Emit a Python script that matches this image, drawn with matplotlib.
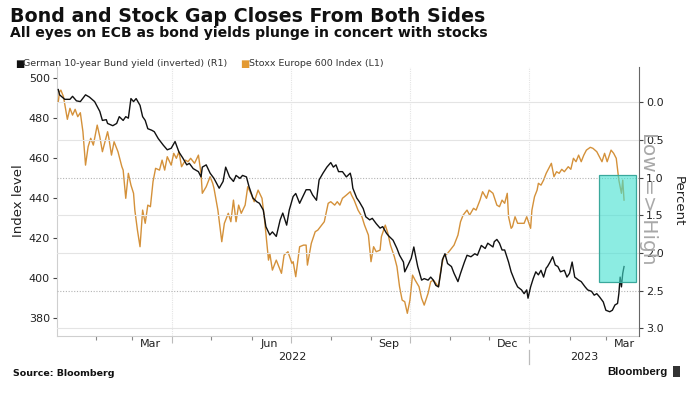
import matplotlib

matplotlib.use("Agg")
import matplotlib.pyplot as plt
import matplotlib.dates as mdates
import matplotlib.transforms as mtransforms
from matplotlib.patches import Rectangle
import pandas as pd

# Stoxx Europe 600 index level (left axis)
stoxx_dates = [
    "2022-01-03", "2022-01-04", "2022-01-05", "2022-01-07", "2022-01-10", "2022-01-12", "2022-01-14",
    "2022-01-16", "2022-01-18", "2022-01-20", "2022-01-22", "2022-01-24", "2022-01-26", "2022-01-28",
    "2022-01-30", "2022-02-02", "2022-02-04", "2022-02-06", "2022-02-10", "2022-02-11", "2022-02-13",
    "2022-02-15", "2022-02-18", "2022-02-21", "2022-02-22", "2022-02-24", "2022-02-26", "2022-02-28",
    "2022-03-02", "2022-03-03", "2022-03-05", "2022-03-07", "2022-03-09", "2022-03-11", "2022-03-13",
    "2022-03-15", "2022-03-17", "2022-03-19", "2022-03-22", "2022-03-24", "2022-03-26", "2022-03-28",
    "2022-03-31", "2022-04-02", "2022-04-04", "2022-04-06", "2022-04-08", "2022-04-11", "2022-04-13",
    "2022-04-15", "2022-04-18", "2022-04-21", "2022-04-23", "2022-04-24", "2022-04-27", "2022-04-30",
    "2022-05-02", "2022-05-03", "2022-05-06", "2022-05-09", "2022-05-11", "2022-05-14", "2022-05-16",
    "2022-05-18", "2022-05-20", "2022-05-22", "2022-05-24", "2022-05-27", "2022-05-29", "2022-06-01",
    "2022-06-03", "2022-06-06", "2022-06-09", "2022-06-11", "2022-06-14", "2022-06-15", "2022-06-17",
    "2022-06-20", "2022-06-24", "2022-06-26", "2022-06-29", "2022-07-02", "2022-07-03", "2022-07-05",
    "2022-07-08", "2022-07-11", "2022-07-13", "2022-07-14", "2022-07-17", "2022-07-20", "2022-07-22",
    "2022-07-25", "2022-07-27", "2022-07-30", "2022-08-01", "2022-08-04", "2022-08-06", "2022-08-08",
    "2022-08-10", "2022-08-13", "2022-08-16", "2022-08-17", "2022-08-19", "2022-08-22", "2022-08-25",
    "2022-08-27", "2022-08-30", "2022-09-01", "2022-09-03", "2022-09-05", "2022-09-08", "2022-09-09",
    "2022-09-12", "2022-09-14", "2022-09-16", "2022-09-19", "2022-09-21", "2022-09-23", "2022-09-25",
    "2022-09-27", "2022-09-29", "2022-10-01", "2022-10-03", "2022-10-05", "2022-10-08", "2022-10-10",
    "2022-10-12", "2022-10-15", "2022-10-17", "2022-10-19", "2022-10-21", "2022-10-23", "2022-10-25",
    "2022-10-27", "2022-10-30", "2022-11-01", "2022-11-04", "2022-11-07", "2022-11-09", "2022-11-11",
    "2022-11-14", "2022-11-16", "2022-11-19", "2022-11-21", "2022-11-24", "2022-11-26", "2022-11-29",
    "2022-12-01", "2022-12-04", "2022-12-07", "2022-12-09", "2022-12-11", "2022-12-13", "2022-12-15",
    "2022-12-16", "2022-12-18", "2022-12-19", "2022-12-21", "2022-12-23", "2022-12-26", "2022-12-28",
    "2022-12-30", "2023-01-02", "2023-01-03", "2023-01-05", "2023-01-07", "2023-01-08", "2023-01-10",
    "2023-01-12", "2023-01-14", "2023-01-16", "2023-01-18", "2023-01-20", "2023-01-22", "2023-01-24",
    "2023-01-26", "2023-01-28", "2023-01-31", "2023-02-02", "2023-02-04", "2023-02-06", "2023-02-08",
    "2023-02-10", "2023-02-12", "2023-02-14", "2023-02-17", "2023-02-19", "2023-02-22", "2023-02-24",
    "2023-02-26", "2023-02-28", "2023-03-02", "2023-03-05", "2023-03-07", "2023-03-09", "2023-03-11",
    "2023-03-13", "2023-03-14", "2023-03-15",
]
stoxx_values = [
    488.3, 493.3, 494.1, 490.8, 479.5, 485.0, 481.6,
    484.5, 480.8, 482.8, 473.3, 456.6, 465.8, 470.0,
    466.6, 476.6, 470.8, 463.3, 473.3, 470.0, 461.6,
    468.3, 463.3, 455.8, 454.1, 440.0, 452.5, 446.6,
    442.5, 434.1, 424.1, 415.8, 434.1, 427.5, 436.6,
    435.8, 448.3, 455.0, 454.1, 459.1, 454.1, 460.8,
    456.6, 462.5, 460.0, 463.3, 455.8, 459.1, 458.3,
    460.0, 457.5, 461.6, 452.5, 442.5, 445.8, 450.8,
    447.5, 445.0, 434.1, 418.3, 427.5, 432.5, 428.3,
    439.1, 428.3, 436.6, 432.5, 436.6, 445.8, 441.6,
    438.3, 444.1, 440.0, 429.1, 409.1, 412.5, 404.1,
    409.1, 402.5, 411.6, 413.3, 407.5, 408.3, 400.8,
    415.8, 416.6, 416.6, 406.6, 417.5, 423.3, 424.1,
    426.6, 428.3, 437.5, 438.3, 436.6, 438.3, 436.6,
    440.0, 441.6, 443.3, 441.6, 439.1, 434.1, 430.8,
    426.6, 421.6, 408.3, 415.8, 413.3, 414.1, 420.8,
    426.6, 422.5, 416.6, 410.8, 405.8, 395.8, 389.1,
    388.3, 382.5, 389.1, 401.6, 399.1, 395.8, 390.0,
    386.6, 392.5, 398.3, 399.1, 397.5, 395.8, 405.0,
    410.8, 412.5, 414.1, 416.6, 421.6, 428.3, 431.6,
    434.1, 431.6, 435.0, 434.1, 439.1, 443.3, 440.0,
    444.1, 442.5, 436.6, 435.8, 439.1, 437.5, 442.5,
    430.8, 425.0, 425.8, 430.8, 427.5, 427.5, 427.5,
    430.8, 425.0, 434.1, 440.8, 444.1, 447.5, 446.6,
    449.1, 452.5, 455.0, 457.5, 450.8, 453.3, 452.5,
    454.5, 453.3, 455.8, 454.5, 460.0, 458.3, 461.6,
    458.3, 461.6, 464.1, 465.5, 465.0, 463.3, 460.8,
    458.3, 462.5, 458.3, 464.1, 462.5, 460.0, 449.1,
    442.5, 449.1, 439.1,
]

# German 10-year Bund yield in percent (right axis, inverted)
bund_dates = [
    "2022-01-03", "2022-01-04", "2022-01-08", "2022-01-12", "2022-01-14", "2022-01-17", "2022-01-20",
    "2022-01-24", "2022-01-27", "2022-01-31", "2022-02-04", "2022-02-06", "2022-02-09", "2022-02-10",
    "2022-02-14", "2022-02-17", "2022-02-19", "2022-02-22", "2022-02-24", "2022-02-26", "2022-02-28",
    "2022-03-02", "2022-03-04", "2022-03-07", "2022-03-09", "2022-03-11", "2022-03-13", "2022-03-16",
    "2022-03-18", "2022-03-21", "2022-03-25", "2022-03-28", "2022-03-31", "2022-04-03", "2022-04-06",
    "2022-04-09", "2022-04-12", "2022-04-14", "2022-04-17", "2022-04-21", "2022-04-23", "2022-04-24",
    "2022-04-27", "2022-04-30", "2022-05-03", "2022-05-07", "2022-05-10", "2022-05-12", "2022-05-15",
    "2022-05-18", "2022-05-20", "2022-05-23", "2022-05-25", "2022-05-28", "2022-05-30", "2022-06-02",
    "2022-06-05", "2022-06-07", "2022-06-10", "2022-06-12", "2022-06-15", "2022-06-17", "2022-06-20",
    "2022-06-23", "2022-06-25", "2022-06-28", "2022-06-30", "2022-07-03", "2022-07-05", "2022-07-08",
    "2022-07-11", "2022-07-13", "2022-07-16", "2022-07-18", "2022-07-21", "2022-07-23", "2022-07-26",
    "2022-07-29", "2022-08-01", "2022-08-03", "2022-08-05", "2022-08-07", "2022-08-10", "2022-08-13",
    "2022-08-16", "2022-08-17", "2022-08-18", "2022-08-21", "2022-08-23", "2022-08-26", "2022-08-28",
    "2022-08-31", "2022-09-02", "2022-09-05", "2022-09-08", "2022-09-10", "2022-09-13", "2022-09-15",
    "2022-09-18", "2022-09-21", "2022-09-23", "2022-09-26", "2022-09-27", "2022-09-29", "2022-10-02",
    "2022-10-04", "2022-10-05", "2022-10-07", "2022-10-10", "2022-10-12", "2022-10-15", "2022-10-17",
    "2022-10-19", "2022-10-21", "2022-10-23", "2022-10-25", "2022-10-26", "2022-10-28", "2022-10-30",
    "2022-11-02", "2022-11-04", "2022-11-07", "2022-11-09", "2022-11-12", "2022-11-14", "2022-11-17",
    "2022-11-20", "2022-11-22", "2022-11-25", "2022-11-28", "2022-11-30", "2022-12-04", "2022-12-05",
    "2022-12-07", "2022-12-09", "2022-12-11", "2022-12-13", "2022-12-16", "2022-12-18", "2022-12-21",
    "2022-12-23", "2022-12-26", "2022-12-28", "2022-12-30", "2022-12-31", "2023-01-02", "2023-01-04",
    "2023-01-06", "2023-01-08", "2023-01-10", "2023-01-12", "2023-01-14", "2023-01-15", "2023-01-17",
    "2023-01-19", "2023-01-21", "2023-01-23", "2023-01-25", "2023-01-28", "2023-01-30", "2023-02-01",
    "2023-02-03", "2023-02-05", "2023-02-08", "2023-02-10", "2023-02-13", "2023-02-15", "2023-02-18",
    "2023-02-20", "2023-02-22", "2023-02-24", "2023-02-27", "2023-03-01", "2023-03-04", "2023-03-06",
    "2023-03-08", "2023-03-10", "2023-03-11", "2023-03-12", "2023-03-13", "2023-03-14", "2023-03-15",
]
bund_values = [
    -0.17, -0.10, -0.04, -0.04, -0.08, -0.02, -0.01,
    -0.10, -0.07, -0.01, 0.12, 0.24, 0.23, 0.28,
    0.31, 0.28, 0.19, 0.24, 0.19, 0.21, -0.05,
    -0.01, -0.05, 0.04, 0.19, 0.24, 0.35, 0.37,
    0.39, 0.48, 0.57, 0.63, 0.61, 0.52, 0.66,
    0.74, 0.83, 0.81, 0.88, 0.92, 0.99, 0.86,
    0.83, 0.94, 1.01, 1.14, 1.05, 0.86, 0.99,
    1.05, 0.97, 1.01, 0.97, 0.99, 1.12, 1.27,
    1.32, 1.34, 1.43, 1.65, 1.76, 1.72, 1.78,
    1.56, 1.47, 1.63, 1.43, 1.25, 1.21, 1.34,
    1.23, 1.16, 1.16, 1.23, 1.30, 1.03, 0.94,
    0.86, 0.80, 0.86, 0.83, 0.92, 0.92, 0.99,
    0.94, 1.01, 1.14, 1.27, 1.32, 1.41, 1.52,
    1.56, 1.54, 1.61, 1.67, 1.65, 1.74, 1.78,
    1.83, 1.94, 2.03, 2.12, 2.25, 2.18, 2.07,
    1.92, 2.01, 2.18, 2.36, 2.34, 2.36, 2.32,
    2.36, 2.43, 2.45, 2.23, 2.09, 2.01, 2.14,
    2.18, 2.27, 2.38, 2.27, 2.12, 2.03, 2.05,
    2.01, 2.03, 1.90, 1.94, 1.87, 1.92, 1.85,
    1.82, 1.87, 1.96, 1.96, 2.12, 2.25, 2.38,
    2.45, 2.49, 2.54, 2.49, 2.60, 2.45, 2.34,
    2.25, 2.29, 2.23, 2.32, 2.20, 2.18, 2.12,
    2.05, 2.16, 2.18, 2.25, 2.23, 2.32, 2.27,
    2.12, 2.32, 2.36, 2.38, 2.45, 2.49, 2.51,
    2.56, 2.54, 2.58, 2.65, 2.76, 2.78, 2.76,
    2.69, 2.67, 2.54, 2.32, 2.45, 2.27, 2.18,
]

# highlighted window (dates, yield range in percent)
box_dates = ["2023-02-24", "2023-03-24"]
box_yields = [0.96, 2.38]

month_labels = ["Mar", "Jun", "Sep", "Dec", "Mar"]
month_label_dates = ["2022-03-15", "2022-06-15", "2022-09-15", "2022-12-15", "2023-03-15"]
year_labels = ["2022", "2023"]
year_label_dates = ["2022-07-02", "2023-02-12"]

ORANGE = "#d4913a"
GRID = "#e4e4e4"


def plot_gap(out_png: str = "out.png") -> None:
    stoxx = pd.Series(stoxx_values, index=pd.to_datetime(stoxx_dates))
    bund = pd.Series(bund_values, index=pd.to_datetime(bund_dates))

    fig = plt.figure(figsize=(7.0, 3.94), dpi=100)
    ax = fig.add_axes([0.0814, 0.1472, 0.8314, 0.6827])
    ax2 = ax.twinx()

    ax.set_xlim(pd.Timestamp("2022-01-02"), pd.Timestamp("2023-03-26 12:00"))
    ax.set_ylim(371.15, 505.65)
    ax2.set_ylim(3.102, -0.469)

    # grid: horizontal from the right axis, vertical at quarter starts
    for lvl in [0.0, 0.5, 1.0, 1.5, 2.0, 2.5, 3.0]:
        if lvl in (1.0, 2.5):
            ax2.axhline(lvl, color="#b4b4b4", lw=0.8, ls=(0, (1, 1.5)), zorder=0)
        else:
            ax2.axhline(lvl, color=GRID, lw=0.8, zorder=0)
    for q in ["2022-04-01", "2022-07-01", "2022-10-01", "2023-01-01"]:
        ax.axvline(pd.Timestamp(q), color=GRID, lw=0.8, ls=(0, (1, 1)), zorder=0)

    ax.plot(stoxx.index, stoxx.values, color=ORANGE, lw=1.0, zorder=3)
    ax2.plot(bund.index, bund.values, color="#111111", lw=1.0, zorder=3)

    # translucent turquoise highlight on top of both lines
    bx0, bx1 = pd.to_datetime(box_dates)
    x0 = mdates.date2num(bx0)
    ax2.add_patch(Rectangle((x0, box_yields[0]), mdates.date2num(bx1) - x0,
                            box_yields[1] - box_yields[0], facecolor="#40e0d0",
                            alpha=0.6, edgecolor="none", zorder=5))
    ax2.add_patch(Rectangle((x0, box_yields[0]), mdates.date2num(bx1) - x0,
                            box_yields[1] - box_yields[0], facecolor="none",
                            edgecolor="#3aa89c", lw=0.9, zorder=6))

    # spines
    for a in (ax, ax2):
        a.spines["top"].set_visible(False)
    ax.spines["left"].set_color("#cfcfcf")
    ax.spines["bottom"].set_color("#cfcfcf")
    ax.spines["right"].set_visible(False)
    ax2.spines["left"].set_visible(False)
    ax2.spines["bottom"].set_visible(False)
    ax2.spines["right"].set_color("#666666")

    ax.set_yticks([380, 400, 420, 440, 460, 480, 500])
    ax.tick_params(axis="y", labelsize=8, length=3, width=0.8, color="#444444",
                   pad=2, labelcolor="#222222")
    ax2.set_yticks([0.0, 0.5, 1.0, 1.5, 2.0, 2.5, 3.0])
    ax2.yaxis.set_major_formatter(plt.FormatStrFormatter("%.1f"))
    ax2.tick_params(axis="y", labelsize=8, length=3, width=0.8, color="#444444",
                    pad=2, labelcolor="#222222")

    # x ticks: long at quarter starts, short at month starts, labels mid-month
    ax.xaxis.set_major_locator(mdates.MonthLocator(bymonth=[1, 4, 7, 10]))
    ax.xaxis.set_minor_locator(mdates.MonthLocator())
    ax.xaxis.set_major_formatter(plt.NullFormatter())
    ax.tick_params(axis="x", which="major", length=5, width=0.8, color="#bbbbbb")
    ax.tick_params(axis="x", which="minor", length=3, width=0.8, color="#888888")

    trans = mtransforms.blended_transform_factory(ax.transData, ax.transAxes)
    for lab, d in zip(month_labels, month_label_dates):
        ax.text(pd.Timestamp(d), -0.03, lab, transform=trans, ha="center", va="center",
                fontsize=8, color="#222222")
    for lab, d in zip(year_labels, year_label_dates):
        ax.text(pd.Timestamp(d), -0.078, lab, transform=trans, ha="center", va="center",
                fontsize=8, color="#222222")
    ax.plot([pd.Timestamp("2023-01-01")] * 2, [-0.052, -0.104], transform=trans,
            color="#bbbbbb", lw=0.9, clip_on=False)

    # axis titles
    fig.text(0.027, 0.492, "Index level", rotation=90, ha="center", va="center",
             fontsize=9.5, color="#222222")
    fig.text(0.9686, 0.49, "Percent", rotation=270, ha="center", va="center",
             fontsize=9.5, color="#222222")
    fig.text(0.926, 0.497, "Low => High", rotation=270, ha="center", va="center",
             fontsize=14.5, color="#a8a8a8")

    # header
    fig.text(0.0143, 0.944, "Bond and Stock Gap Closes From Both Sides",
             fontsize=13.7, fontweight="bold", color="#111111", va="baseline")
    fig.text(0.0143, 0.906, "All eyes on ECB as bond yields plunge in concert with stocks",
             fontsize=10.1, fontweight="bold", color="#111111", va="baseline")
    fig.text(0.021, 0.838, "\u25a0", fontsize=7, color="#111111", va="center")
    fig.text(0.033, 0.838, "German 10-year Bund yield (inverted) (R1)", fontsize=6.8,
             color="#333333", va="center")
    fig.text(0.343, 0.838, "\u25a0", fontsize=7, color="#e39a33", va="center")
    fig.text(0.356, 0.838, "Stoxx Europe 600 Index (L1)", fontsize=6.8,
             color="#333333", va="center")

    # footer
    fig.text(0.019, 0.053, "Source: Bloomberg", fontsize=6.8, fontweight="bold",
             color="#111111", va="center")
    fig.text(0.954, 0.056, "Bloomberg", fontsize=8.2, fontweight="bold",
             family="Liberation Sans", color="#111111", va="center", ha="right")
    fig.patches.append(Rectangle((0.961, 0.043), 0.011, 0.028, transform=fig.transFigure,
                                 facecolor="#333333", edgecolor="none"))

    fig.savefig(out_png, dpi=100)
    plt.close(fig)


def main() -> None:
    plot_gap("out.png")


if __name__ == "__main__":
    main()
